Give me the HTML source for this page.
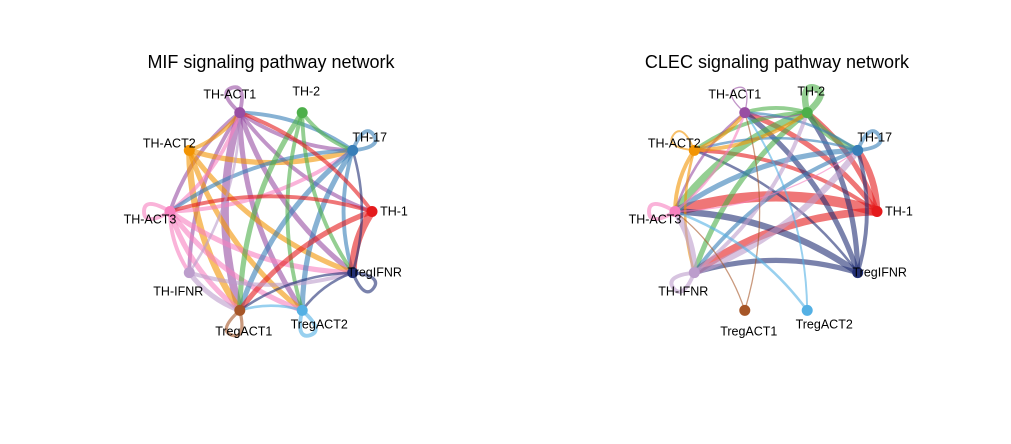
<!DOCTYPE html>
<html><head><meta charset="utf-8"><style>
body{margin:0;background:#fff;}
svg{display:block;font-family:"Liberation Sans",sans-serif;}
</style></head><body>
<svg id="chart" width="1011" height="444" viewBox="0 0 1011 444">
<rect width="1011" height="444" fill="#fff"/>
<text x="271" y="68" font-size="18" text-anchor="middle" fill="#000">MIF signaling pathway network</text>
<text x="777" y="68" font-size="18" text-anchor="middle" fill="#000">CLEC signaling pathway network</text>
<g id="p1"></g>
<g id="p2"></g>
</svg>
<script>
const cellNames = ["TH-ACT1","TH-2","TH-17","TH-1","TregIFNR","TregACT2","TregACT1","TH-IFNR","TH-ACT3","TH-ACT2"];
const cellColors = ["#984EA3","#4DAF4A","#377EB8","#E41A1C","#222F75","#54B0E4","#A65628","#BC9DCC","#F781BF","#F29403"];
// [source, target, weight]
const mifEdges = [
["TH-ACT1","TH-ACT1",3],["TH-17","TH-17",3],["TH-ACT3","TH-ACT3",3],["TregIFNR","TregIFNR",2.5],["TregACT1","TregACT1",2.5],["TregACT2","TregACT2",3],
["TH-ACT1","TH-ACT3",3],["TH-ACT1","TH-IFNR",3],["TH-ACT1","TregACT1",6],["TH-ACT1","TregACT2",4],["TH-ACT1","TregIFNR",4],["TH-ACT1","TH-1",3],["TH-ACT1","TH-17",3],
["TH-ACT2","TH-ACT1",3],["TH-ACT2","TH-17",4],["TH-ACT2","TregACT1",5],["TH-ACT2","TregACT2",4],["TH-ACT2","TregIFNR",4],
["TH-ACT3","TH-ACT1",3],["TH-ACT3","TH-17",3],["TH-ACT3","TregACT1",4],["TH-ACT3","TregACT2",4],["TH-ACT3","TregIFNR",4],["TH-ACT3","TH-IFNR",3],
["TH-17","TH-ACT1",3],["TH-17","TH-ACT3",3],["TH-17","TregACT1",4],["TH-17","TregACT2",4],["TH-17","TregIFNR",3],
["TH-2","TH-17",3],["TH-2","TregACT1",4],["TH-2","TregACT2",3],["TH-2","TregIFNR",3],
["TH-1","TH-ACT1",3],["TH-1","TH-ACT3",3],["TH-1","TregIFNR",6],["TH-1","TregACT1",4],
["TH-IFNR","TregIFNR",3],["TH-IFNR","TregACT1",4],["TH-IFNR","TH-ACT1",2],
["TregIFNR","TregACT1",2],["TregIFNR","TregACT2",2],["TregIFNR","TH-17",2],["TregACT2","TregACT1",2]
];
const clecEdges = [
["TH-2","TH-2",5],["TH-17","TH-17",3],["TH-ACT1","TH-ACT1",1],["TH-ACT2","TH-ACT2",1.5],["TH-ACT3","TH-ACT3",3],["TH-IFNR","TH-IFNR",3],
["TH-1","TH-ACT3",8],["TH-1","TH-IFNR",6],["TH-1","TH-ACT1",4],["TH-1","TH-2",4],["TH-1","TH-17",5],["TH-1","TH-ACT2",3],
["TregIFNR","TH-ACT3",5],["TregIFNR","TH-IFNR",4],["TregIFNR","TH-ACT1",4],["TregIFNR","TH-2",4],["TregIFNR","TH-ACT2",2],["TregIFNR","TH-17",3],
["TH-2","TH-ACT3",6],["TH-2","TH-IFNR",4],["TH-2","TH-ACT1",3],["TH-2","TH-ACT2",3],["TH-2","TH-17",5],
["TH-17","TH-ACT3",4],["TH-17","TH-IFNR",3],["TH-17","TH-ACT1",2],["TH-17","TH-ACT2",2],
["TH-ACT1","TH-2",1],["TH-ACT1","TH-ACT3",2],
["TH-ACT2","TH-ACT1",3],["TH-ACT2","TH-2",3],["TH-ACT2","TH-ACT3",3],["TH-ACT2","TH-IFNR",2],
["TH-ACT3","TH-ACT1",2],["TH-ACT3","TH-17",1],
["TH-IFNR","TH-ACT3",5],["TH-IFNR","TH-17",5],["TH-IFNR","TH-2",3],
["TregACT1","TH-ACT1",1],["TregACT1","TH-ACT3",1],
["TregACT2","TH-ACT1",1.5],["TregACT2","TH-ACT3",2]
];
const nodeAngles = [108,72,36,0,-36,-72,-108,-144,180,144];
const labelOff = [[-10,-14],[4,-17],[17,-9],[22,4],[22,4],[17,18],[4,25],[-11,23],[-20,12],[-20,-3]];
const NS="http://www.w3.org/2000/svg";
function mk(tag,attrs,parent){const e=document.createElementNS(NS,tag);for(const k in attrs)e.setAttribute(k,attrs[k]);parent.appendChild(e);return e;}
function drawPanel(gid,cx,cy,edges,prefix){
  const g=document.getElementById(gid);
  const pos=nodeAngles.map(a=>[cx+101*Math.cos(a*Math.PI/180),cy-104*Math.sin(a*Math.PI/180)]);
  const idx=n=>cellNames.indexOf(n);
  edges.forEach(e=>{
    const s=idx(e[0]),t=idx(e[1]),col=cellColors[s],w=e[2]*1.3;
    const [x1,y1]=pos[s],[x2,y2]=pos[t];
    let d;
    if(s===t){
      const dx=x1-cx,dy=y1-cy,L=Math.hypot(dx,dy),ux=dx/L,uy=dy/L,px=-uy,py=ux;
      const fx=x1+ux*26,fy=y1+uy*26;
      d=`M${x1},${y1} C${x1+ux*20+px*12},${y1+uy*20+py*12} ${fx+px*8},${fy+py*8} ${fx},${fy} S${x1+ux*20-px*12},${y1+uy*20-py*12} ${x1},${y1}`;
    } else {
      const mx=(x1+x2)/2,my=(y1+y2)/2,dx=x2-x1,dy=y2-y1;
      const qx=mx-dy*0.15,qy=my+dx*0.15;
      d=`M${x1},${y1} Q${qx},${qy} ${x2},${y2}`;
    }
    const p=mk('path',{d:d,fill:'none',stroke:col,'stroke-width':w,'stroke-opacity':0.6,'stroke-linecap':'round'},g);
    
    
  });
  pos.forEach((p,i)=>{
    const c=mk('circle',{cx:p[0],cy:p[1],r:5.5,fill:cellColors[i]},g);
    
    
    const t=mk('text',{x:p[0]+labelOff[i][0],y:p[1]+labelOff[i][1],'font-size':12.5,'text-anchor':'middle',fill:'#000'},g);
    t.textContent=cellNames[i];
    
    
  });
}
drawPanel('p1',271,211.5,mifEdges,'mif');
drawPanel('p2',776,211.5,clecEdges,'clec');
</script>
</body></html>
